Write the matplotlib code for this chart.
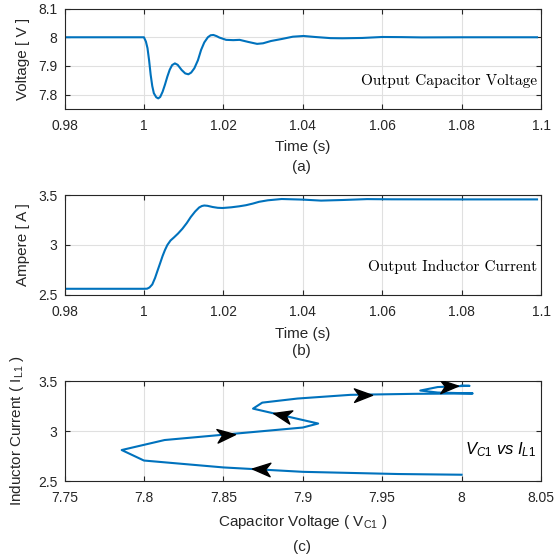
import numpy as np
import matplotlib.pyplot as plt
from matplotlib.path import Path
from matplotlib.markers import MarkerStyle
from matplotlib.transforms import Affine2D
from matplotlib.ticker import FuncFormatter

# (a) output capacitor voltage vs time
t_v = [0.98, 1.0, 1.0005, 1.0009, 1.0013, 1.0017, 1.0021, 1.0025, 1.0031, 1.0036,
       1.0041, 1.0047, 1.0053, 1.0059, 1.0065, 1.0071, 1.0078, 1.0085, 1.0095, 1.0104,
       1.0112, 1.0119, 1.0127, 1.0136, 1.0144, 1.0152, 1.0161, 1.0168, 1.0175, 1.0183,
       1.019, 1.0207, 1.0225, 1.0241, 1.0262, 1.0285, 1.030, 1.032, 1.0347, 1.0375,
       1.0402, 1.0431, 1.047, 1.050, 1.055, 1.060, 1.065, 1.07, 1.08, 1.099]
volt = [8.0, 8.0, 7.985, 7.962, 7.92, 7.869, 7.83, 7.805, 7.791, 7.787,
        7.792, 7.81, 7.835, 7.863, 7.887, 7.903, 7.909, 7.904, 7.886, 7.874,
        7.871, 7.877, 7.892, 7.92, 7.956, 7.982, 8.0, 8.007, 8.008, 8.004,
        7.999, 7.991, 7.99, 7.991, 7.984, 7.977, 7.979, 7.987, 7.994, 8.002,
        8.0045, 8.001, 7.997, 7.9965, 7.9976, 8.001, 8.0005, 7.9995, 8.0, 8.0]

# (b) output inductor current vs time
t_i = [0.98, 1.0, 1.0008, 1.0014, 1.0021, 1.0028, 1.0034, 1.0041, 1.0047, 1.0053,
       1.0059, 1.0067, 1.0076, 1.0086, 1.0097, 1.0108, 1.0118, 1.0129, 1.0139, 1.0146,
       1.0152, 1.016, 1.0173, 1.0186, 1.0198, 1.022, 1.024, 1.0257, 1.0274, 1.029,
       1.0312, 1.0347, 1.040, 1.0446, 1.050, 1.0562, 1.0624, 1.08, 1.099]
amp = [2.562, 2.562, 2.563, 2.575, 2.605, 2.67, 2.74, 2.82, 2.89, 2.95,
       3.0, 3.045, 3.077, 3.115, 3.163, 3.22, 3.28, 3.335, 3.375, 3.39,
       3.395, 3.392, 3.38, 3.372, 3.37, 3.377, 3.387, 3.398, 3.414, 3.432,
       3.447, 3.46, 3.454, 3.444, 3.45, 3.459, 3.457, 3.456, 3.456]

# (c) phase plane V_C1 vs I_L1
vc1 = [8.0, 7.96, 7.90, 7.85, 7.80, 7.786, 7.813, 7.90, 7.9097, 7.8687,
       7.8745, 7.8967, 7.93, 7.97, 8.007, 7.985, 7.974, 7.985, 8.0, 8.005, 8.0]
il1 = [2.563, 2.570, 2.592, 2.636, 2.705, 2.81, 2.91, 3.035, 3.075, 3.224,
       3.284, 3.325, 3.362, 3.372, 3.376, 3.385, 3.405, 3.44, 3.45, 3.452, 3.455]

# arrow positions on the trajectory
arr_v = [7.874, 7.8515, 7.887, 7.938, 7.992]
arr_i = [2.619, 2.963, 3.157, 3.365, 3.447]

blue = '#0072BD'
dark = '#262626'

plt.rcParams['font.family'] = 'Liberation Sans'
plt.rcParams['mathtext.fontset'] = 'custom'
plt.rcParams['mathtext.rm'] = 'Liberation Sans'
plt.rcParams['mathtext.it'] = 'Liberation Sans:italic'
plt.rcParams['font.size'] = 10


def style(ax):
    ax.grid(True, color='#e0e0e0', lw=0.8)
    ax.set_axisbelow(True)
    for s in ax.spines.values():
        s.set_color(dark)
        s.set_linewidth(0.8)
    ax.tick_params(direction='in', top=True, right=True, length=3.5,
                   width=0.8, color=dark, labelcolor=dark, labelsize=10)
    ax.tick_params(axis='x', pad=7.5)
    ax.tick_params(axis='y', pad=5)
    fmt = FuncFormatter(lambda v, p: '%g' % round(v, 4))
    ax.xaxis.set_major_formatter(fmt)
    ax.yaxis.set_major_formatter(fmt)


fig = plt.figure(figsize=(5.59, 5.57), dpi=100)
L, W = 0.1154, 0.8524
ax1 = fig.add_axes([L, 0.8043, W, 0.1803])
ax2 = fig.add_axes([L, 0.4704, W, 0.1795])
ax3 = fig.add_axes([L, 0.1364, W, 0.1795])

# (a)
ax1.plot(t_v, volt, color=blue, lw=1.5)
ax1.set_xlim(0.98, 1.1)
ax1.set_ylim(7.75, 8.1)
ax1.set_xticks(np.arange(0.98, 1.101, 0.02))
ax1.set_yticks([7.8, 7.9, 8.0, 8.1])
style(ax1)
ax1.set_xlabel('Time (s)', fontsize=11, color=dark)
ax1.set_ylabel('Voltage [ V ]', fontsize=11, color=dark)
ax1.xaxis.set_label_coords(0.5, -0.309)
ax1.yaxis.set_label_coords(-0.072, 0.5)
ax1.text(0.991, 0.282, 'Output Capacitor Voltage', transform=ax1.transAxes,
         ha='right', va='center', fontsize=11, family='cmr10')

# (b)
ax2.plot(t_i, amp, color=blue, lw=1.5)
ax2.set_xlim(0.98, 1.1)
ax2.set_ylim(2.5, 3.5)
ax2.set_xticks(np.arange(0.98, 1.101, 0.02))
ax2.set_yticks([2.5, 3.0, 3.5])
style(ax2)
ax2.set_xlabel('Time (s)', fontsize=11, color=dark)
ax2.set_ylabel('Ampere [ A ]', fontsize=11, color=dark)
ax2.xaxis.set_label_coords(0.5, -0.317)
ax2.yaxis.set_label_coords(-0.072, 0.5)
ax2.text(0.991, 0.277, 'Output Inductor Current', transform=ax2.transAxes,
         ha='right', va='center', fontsize=11, family='cmr10')

# (c)
ax3.plot(vc1, il1, color=blue, lw=1.5)
ax3.set_xlim(7.75, 8.05)
ax3.set_ylim(2.5, 3.5)
ax3.set_xticks(np.arange(7.75, 8.051, 0.05))
ax3.set_yticks([2.5, 3.0, 3.5])
style(ax3)
ax3.set_xlabel(r'Capacitor Voltage ( V$_{\rm C1}$ )', fontsize=11, color=dark)
ax3.set_ylabel(r'Inductor Current ( I$_{\rm L1}$ )', fontsize=11, color=dark)
ax3.xaxis.set_label_coords(0.5, -0.323)
ax3.yaxis.set_label_coords(-0.08, 0.5)
ax3.text(0.991, 0.31, r'$V_{C1}\ vs\ I_{L1}$', transform=ax3.transAxes,
         ha='right', va='center', fontsize=12, color='k')

# notched arrow heads along the trajectory
head = Path([(1, 0), (-1, 0.75), (-0.45, 0), (-1, -0.75), (1, 0)],
            [Path.MOVETO, Path.LINETO, Path.LINETO, Path.LINETO, Path.CLOSEPOLY])
pts = ax3.transData.transform(np.column_stack([vc1, il1]))
for av, ai in zip(arr_v, arr_i):
    p = ax3.transData.transform((av, ai))
    best, ang = 1e9, 0
    for k in range(len(pts) - 1):
        a, b = pts[k], pts[k + 1]
        d = b - a
        u = np.clip(np.dot(p - a, d) / max(np.dot(d, d), 1e-9), 0, 1)
        dist = np.hypot(*(a + u * d - p))
        if dist < best:
            best, ang = dist, np.degrees(np.arctan2(d[1], d[0]))
    m = MarkerStyle(head, transform=Affine2D().rotate_deg(ang))
    ax3.plot(av, ai, marker=m, ms=13, color='k', ls='none', zorder=5)

fig.text(0.54, 0.7007, '(a)', ha='center', va='center', fontsize=11, color=dark)
fig.text(0.54, 0.3698, '(b)', ha='center', va='center', fontsize=11, color=dark)
fig.text(0.54, 0.0185, '(c)', ha='center', va='center', fontsize=11, color=dark)

fig.savefig('out.png', dpi=100)
